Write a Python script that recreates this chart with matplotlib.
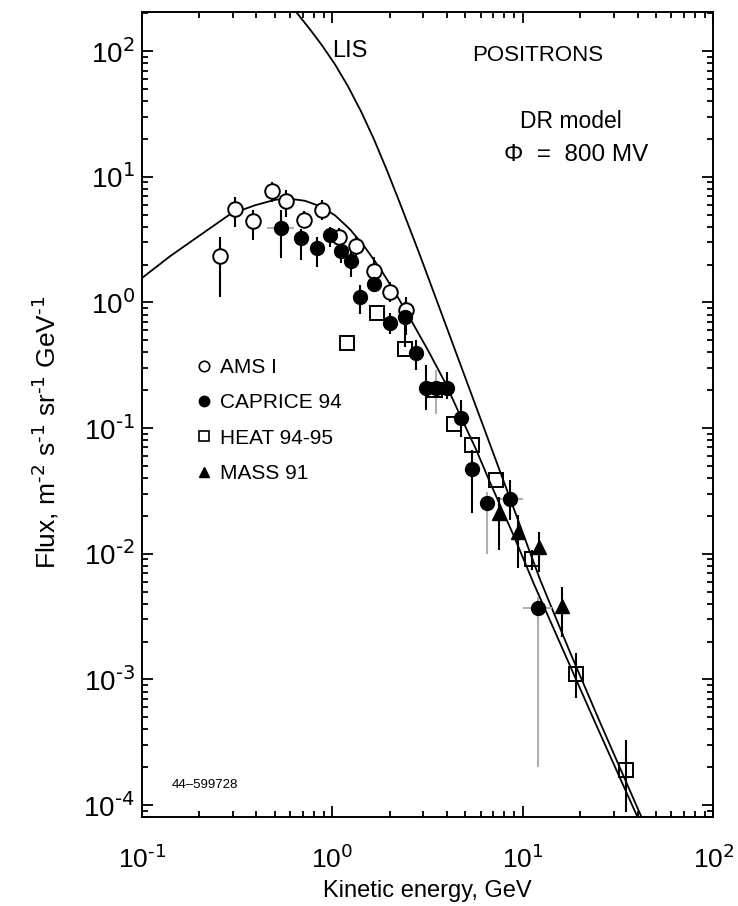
import numpy as np
import matplotlib
matplotlib.use("Agg")
import matplotlib.pyplot as plt
from matplotlib.ticker import FixedLocator, FuncFormatter, NullFormatter
from matplotlib.lines import Line2D

plt.rcParams["font.family"] = ["Liberation Sans", "DejaVu Sans"]
plt.rcParams["mathtext.default"] = "regular"

# ---- measured positron fluxes (GeV, m^-2 s^-1 sr^-1 GeV^-1) ----
ams_e = [0.258, 0.309, 0.382, 0.481, 0.569, 0.713, 0.886, 1.084, 1.327, 1.661, 2.007, 2.427]
ams_f = [2.33, 5.57, 4.42, 7.69, 6.37, 4.50, 5.40, 3.31, 2.79, 1.77, 1.21, 0.865]
ams_lo = [1.10, 3.98, 3.12, 6.29, 4.78, 3.90, 4.50, 2.80, 2.35, 1.45, 1.00, 0.55]
ams_hi = [3.31, 6.89, 5.41, 9.08, 7.80, 5.30, 6.49, 3.90, 3.30, 2.30, 1.45, 1.10]

cap_e = [0.538, 0.685, 0.828, 0.973, 1.111, 1.254, 1.398, 1.661, 2.007, 2.406,
         2.749, 3.10, 3.50, 4.00, 4.73, 5.43, 6.46, 8.56, 12.04]
cap_f = [3.91, 3.25, 2.73, 3.42, 2.56, 2.14, 1.10, 1.41, 0.686, 0.765,
         0.392, 0.210, 0.210, 0.210, 0.120, 0.0468, 0.0251, 0.0270, 0.00371]
cap_lo = [2.24, 2.16, 1.92, 2.77, 2.04, 1.59, 0.815, 1.20, 0.56, 0.442,
          0.288, 0.139, 0.130, 0.170, 0.0845, 0.0209, 0.0100, 0.0185, 0.00020]
cap_hi = [5.40, 3.87, 3.31, 3.98, 3.12, 2.60, 1.37, 1.65, 0.82, 1.007,
          0.4995, 0.316, 0.290, 0.280, 0.1676, 0.0666, 0.031, 0.0384, 0.0045]
cap_elo = [0.461, None, None, None, None, None, None, None, None, None,
           None, None, None, None, None, None, None, 7.57, 10.17]
cap_ehi = [0.624, None, None, None, None, None, None, None, None, None,
           None, None, None, None, None, None, None, 9.90, 14.1]

heat_e = [1.199, 1.710, 2.406, 3.46, 4.37, 5.43, 7.20, 11.12, 18.92, 34.6]
heat_f = [0.475, 0.823, 0.429, 0.200, 0.1086, 0.0730, 0.0384, 0.0090, 0.00110, 1.90e-4]
heat_lo = [0.475, 0.823, 0.429, 0.200, 0.1086, 0.0730, 0.0384, 0.0074, 7.05e-4, 8.8e-5]
heat_hi = [0.475, 0.823, 0.429, 0.200, 0.1086, 0.0730, 0.0384, 0.01067, 1.61e-3, 3.28e-4]

mass_e = [7.49, 9.46, 12.19, 15.98]
mass_f = [0.0209, 0.0149, 0.01133, 0.00385]
mass_lo = [0.01067, 0.00767, 0.00716, 0.00218]
mass_hi = [0.0283, 0.0202, 0.0149, 0.00544]

# ---- model spectra: local interstellar (LIS) and modulated ----
lis_e = [0.630, 0.764, 0.883, 1.033, 1.209, 1.415, 1.655, 1.936, 2.266, 2.557, 2.885,
         3.674, 4.677, 5.955, 7.583, 9.656, 12.29, 17.67, 25.38, 42.16, 46.43]
lis_f = [214.7, 148.8, 111.0, 78.4, 52.4, 33.1, 19.84, 11.24, 6.14, 3.815, 2.370,
         0.881, 0.3277, 0.1219, 0.04532, 0.01685, 0.006266, 0.001646, 4.566e-4, 7.865e-5, 5.655e-5]

mod_e = [0.1, 0.1408, 0.2022, 0.2906, 0.3930, 0.5005, 0.5999, 0.7193, 0.8619, 1.033,
         1.238, 1.484, 1.780, 2.133, 2.557, 3.177, 3.903, 4.710, 5.675, 6.753,
         9.024, 11.38, 16.27, 23.89, 39.97, 44.24]
mod_f = [1.555, 2.327, 3.419, 5.022, 5.923, 6.550, 6.672, 6.432, 5.815, 4.931,
         3.815, 2.744, 1.867, 1.203, 0.7470, 0.4158, 0.2313, 0.1241, 0.06783, 0.03638,
         0.01353, 0.005825, 0.001707, 4.566e-4, 8.01e-5, 5.655e-5]

legend_labels = ["AMS I", "CAPRICE 94", "HEAT 94-95", "MASS 91"]
x_decades = [-1, 0, 1, 2]
y_decades = [-4, -3, -2, -1, 0, 1, 2]

fig = plt.figure(figsize=(7.38, 9.06), dpi=100)
ax = fig.add_axes([0.192, 0.0979, 0.7747, 0.889])
ax.set_xscale("log")
ax.set_yscale("log")
ax.set_xlim(0.1, 100)
ax.set_ylim(7.98e-5, 205)

lw_curve = 1.3
ax.plot(lis_e, lis_f, color="black", lw=lw_curve, zorder=2)
ax.plot(mod_e, mod_f, color="black", lw=lw_curve, zorder=2)


def bars(e, f, lo, hi, color="black"):
    f = np.asarray(f)
    ax.errorbar(e, f, yerr=[f - np.asarray(lo), np.asarray(hi) - f], fmt="none",
                ecolor=color, elinewidth=1.5, capsize=0, zorder=3)


bars(ams_e, ams_f, ams_lo, ams_hi)

gray_idx = {12, 16, 18}
for i in range(len(cap_e)):
    col = "#b0b0b0" if i in gray_idx else "black"
    bars([cap_e[i]], [cap_f[i]], [cap_lo[i]], [cap_hi[i]], color=col)
    if cap_elo[i] is not None:
        ax.plot([cap_elo[i], cap_ehi[i]], [cap_f[i], cap_f[i]], color="#b0b0b0", lw=1.5, zorder=3)

bars(heat_e, heat_f, heat_lo, heat_hi)
bars(mass_e, mass_f, mass_lo, mass_hi)

ms = 10.5
ax.plot(ams_e, ams_f, "o", ms=ms, mfc="white", mec="black", mew=1.4, ls="none", zorder=4)
ax.plot(cap_e, cap_f, "o", ms=ms - 0.5, mfc="black", mec="black", ls="none", zorder=5)
ax.plot(heat_e, heat_f, "s", ms=ms, mfc="none", mec="black", mew=1.4, ls="none", zorder=5)
ax.plot(mass_e, mass_f, "^", ms=ms - 1, mfc="black", mec="black", ls="none", zorder=5)

# axes styling
for sp in ax.spines.values():
    sp.set_linewidth(1.4)


def minor_ticks(decades, lo, hi):
    vals = [m * 10.0 ** d for d in range(decades[0] - 1, decades[-1] + 1) for m in range(2, 10)]
    return [v for v in vals if lo < v < hi]


def decade_label(v, pos):
    exp = int(round(np.log10(v)))
    return r"$10^{\text{%d}}$" % exp


ax.xaxis.set_major_locator(FixedLocator([10.0 ** d for d in x_decades]))
ax.yaxis.set_major_locator(FixedLocator([10.0 ** d for d in y_decades]))
ax.xaxis.set_minor_locator(FixedLocator(minor_ticks(x_decades, 0.1, 100)))
ax.yaxis.set_minor_locator(FixedLocator(minor_ticks(y_decades, 7.98e-5, 205)))
ax.xaxis.set_minor_formatter(NullFormatter())
ax.yaxis.set_minor_formatter(NullFormatter())
ax.xaxis.set_major_formatter(FuncFormatter(decade_label))
ax.yaxis.set_major_formatter(FuncFormatter(decade_label))
ax.tick_params(which="both", direction="in", top=True, right=True, width=1.3)
ax.tick_params(which="major", length=8, labelsize=19)
ax.tick_params(which="minor", length=4)
ax.tick_params(axis="y", which="major", pad=5, labelsize=20)
ax.tick_params(axis="x", which="major", pad=20)

ax.set_xlabel("Kinetic energy, GeV", fontsize=17)
ax.set_ylabel(r"Flux, m$^{\text{-2}}$ s$^{\text{-1}}$ sr$^{\text{-1}}$ GeV$^{\text{-1}}$", fontsize=19)
ax.xaxis.set_label_coords(0.5, -0.078)
ax.yaxis.set_label_coords(-0.142, 0.478)

ax.text(0.333, 0.952, "LIS", transform=ax.transAxes, fontsize=17, ha="left", va="center")
ax.text(0.693, 0.946, "POSITRONS", transform=ax.transAxes, fontsize=16, ha="center", va="center")
ax.text(0.751, 0.864, "DR model", transform=ax.transAxes, fontsize=16.5, ha="center", va="center")
ax.text(0.759, 0.822, "\u03a6  =  800 MV", transform=ax.transAxes, fontsize=17.5, ha="center", va="center")
ax.text(0.053, 0.040, "44\u2013599728", transform=ax.transAxes, fontsize=9.5, ha="left", va="center")

handles = [
    Line2D([], [], marker="o", ls="none", ms=7.5, mfc="white", mec="black", mew=1.2),
    Line2D([], [], marker="o", ls="none", ms=7.5, mfc="black", mec="black"),
    Line2D([], [], marker="s", ls="none", ms=7, mfc="none", mec="black", mew=1.2),
    Line2D([], [], marker="^", ls="none", ms=7.5, mfc="black", mec="black"),
]
ax.legend(handles, legend_labels, loc="upper left", bbox_to_anchor=(0.095, 0.570),
          frameon=False, fontsize=15, handlelength=0.8, handletextpad=0.35,
          labelspacing=0.78, borderpad=0, borderaxespad=0)

fig.savefig("out.png", dpi=100)
